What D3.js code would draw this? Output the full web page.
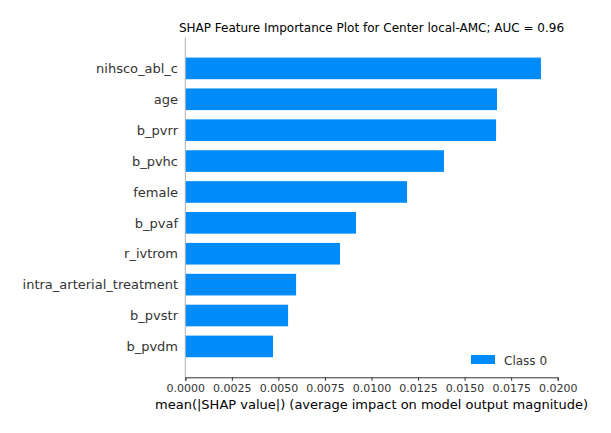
<!DOCTYPE html>
<html><head><meta charset="utf-8">
<script src="https://cdn.jsdelivr.net/npm/d3@7"></script>
<style>body{margin:0;background:#fff;} svg{display:block;font-family:"DejaVu Sans",sans-serif;}</style>
</head><body>
<svg id="c" width="611" height="433"></svg>
<script>
const features = ["nihsco_abl_c","age","b_pvrr","b_pvhc","female","b_pvaf","r_ivtrom","intra_arterial_treatment","b_pvstr","b_pvdm"];
const values = [0.01910,0.01674,0.01669,0.01389,0.01191,0.00917,0.00831,0.00595,0.00552,0.00471];
const xTicks = [0,0.0025,0.005,0.0075,0.01,0.0125,0.015,0.0175,0.02];
const seriesName = "Class 0";
const title = "SHAP Feature Importance Plot for Center local-AMC; AUC = 0.96";
const xLabel = "mean(|SHAP value|) (average impact on model output magnitude)";

const svg = d3.select("#c");
const mLeft = 185.3, mRight = 557.7, mTop = 37.5, mBottom = 377.3;
const x = d3.scaleLinear().domain([0,0.02]).range([mLeft,mRight]);
const y = d3.scaleLinear().domain([-1, features.length]).range([mTop,mBottom]);
const step = y(1)-y(0);
const barH = step*0.7;
const blue = "#008bfb";

svg.append("g").selectAll("rect").data(values).join("rect")
  .attr("x", x(0)).attr("y",(d,i)=>y(i)-barH/2)
  .attr("width", d=>x(d)-x(0)).attr("height", barH).attr("fill", blue);

// left spine
svg.append("line").attr("x1",mLeft).attr("x2",mLeft).attr("y1",mTop).attr("y2",mBottom)
  .attr("stroke","#b0b0b0").attr("stroke-width",1);

// y labels
svg.append("g").selectAll("text").data(features).join("text")
  .attr("x", 178).attr("y",(d,i)=>y(i)).attr("dy","0.36em")
  .attr("text-anchor","end").attr("font-size","13px").attr("fill","#333333").text(d=>d);

// x axis
const xa = svg.append("g").attr("transform",`translate(0,${mBottom})`)
  .call(d3.axisBottom(x).tickValues(xTicks).tickFormat(d3.format(".4f")).tickSizeOuter(0).tickSize(3.5).tickPadding(3));
xa.select(".domain").attr("stroke","#333333");
xa.selectAll(".tick line").attr("stroke","#333333");
xa.selectAll(".tick text").attr("font-size","11px").attr("fill","#333333").attr("font-family","DejaVu Sans");

svg.append("text").attr("x",(mLeft+mRight)/2).attr("y",409).attr("text-anchor","middle")
  .attr("font-size","13px").attr("fill","#000").text(xLabel);

svg.append("text").attr("x",(mLeft+mRight)/2).attr("y",32).attr("text-anchor","middle")
  .attr("font-size","12px").attr("fill","#000").text(title);

// legend
const lg = svg.append("g");
lg.append("rect").attr("x",471).attr("y",355).attr("width",24).attr("height",9).attr("fill",blue);
lg.append("text").attr("x",504).attr("y",364.5).attr("font-size","12px").attr("fill","#333333").text(seriesName);
</script>
</body></html>
